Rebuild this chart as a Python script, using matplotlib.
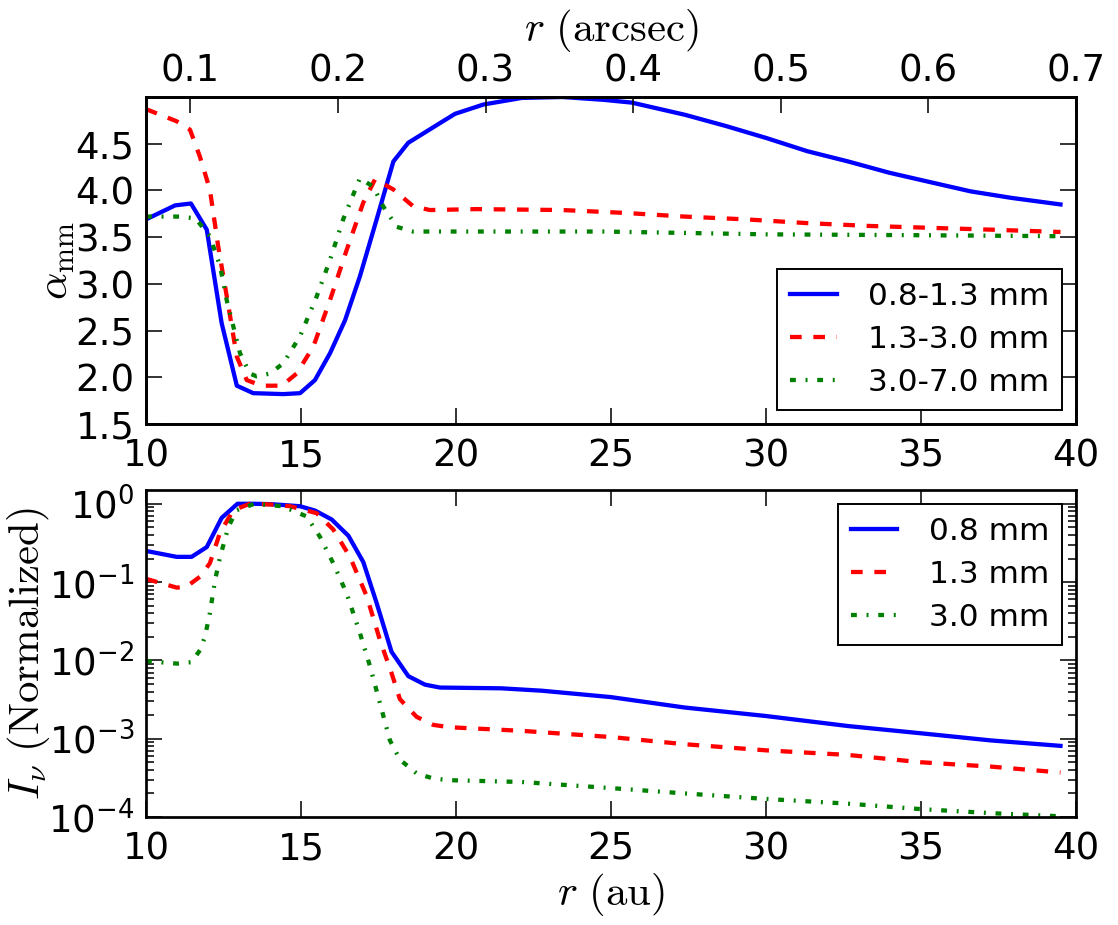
import matplotlib
matplotlib.use("Agg")
import matplotlib.pyplot as plt
import numpy as np

# ---------------- data ----------------
# top panel: spectral index alpha_mm
r_a1 = [10, 10.94, 11.45, 11.96, 12.44, 12.93, 13.46, 14.43, 14.97, 15.45, 15.94, 16.42,
        16.9, 17.44, 17.98, 18.46, 19.48, 19.97, 20.89, 22.12, 23.43, 24.75, 25.67, 27.38,
        28.70, 30.02, 31.33, 32.65, 33.97, 35.28, 36.6, 37.92, 39.5]
alpha_08_13 = [3.69, 3.84, 3.86, 3.58, 2.58, 1.91, 1.83, 1.82, 1.83, 1.97, 2.26, 2.61,
               3.08, 3.69, 4.31, 4.51, 4.72, 4.82, 4.92, 4.99, 5.0, 4.97, 4.94, 4.81,
               4.69, 4.56, 4.42, 4.31, 4.19, 4.09, 3.99, 3.92, 3.85]

r_a2 = [10, 10.99, 11.42, 11.74, 12.06, 12.33, 12.66, 12.93, 13.25, 13.73, 14.38, 14.86,
        15.4, 15.94, 16.47, 17.01, 17.39, 17.98, 18.62, 19.16, 20.67, 23.43, 25.41, 27.38,
        29.36, 31.33, 33.31, 35.28, 37.26, 39.5]
alpha_13_30 = [4.87, 4.74, 4.65, 4.36, 4.01, 3.40, 2.76, 2.22, 1.97, 1.91, 1.91, 2.04,
               2.33, 2.83, 3.36, 3.87, 4.12, 4.01, 3.83, 3.79, 3.80, 3.79, 3.76, 3.72,
               3.69, 3.65, 3.62, 3.60, 3.58, 3.555]

r_a3 = [10, 11.1, 11.6, 12.06, 12.39, 12.6, 12.82, 13.03, 13.35, 13.57, 14.0, 14.43,
        14.97, 15.5, 15.94, 16.36, 16.9, 17.33, 17.65, 18.09, 18.62, 20.4, 24.75, 30.0,
        35.3, 39.5]
alpha_30_70 = [3.72, 3.72, 3.70, 3.51, 3.19, 2.83, 2.54, 2.26, 2.04, 2.01, 2.04, 2.15,
               2.44, 2.86, 3.26, 3.69, 4.13, 4.04, 3.83, 3.61, 3.56, 3.56, 3.56, 3.53,
               3.52, 3.51]

# bottom panel: normalized intensity
r_i1 = [10, 10.99, 11.47, 11.96, 12.44, 12.95, 13.5, 14.0, 14.5, 14.97, 15.45, 15.99,
        16.53, 17.01, 17.44, 17.92, 18.46, 19.0, 19.48, 21.46, 22.77, 24.99, 27.38, 29.99,
        32.65, 35.02, 37.26, 39.5]
I_08 = [0.25, 0.21, 0.21, 0.28, 0.66, 1.0, 1.0, 0.99, 0.96, 0.93, 0.82, 0.63,
        0.39, 0.18, 0.054, 0.0129, 0.0063, 0.0049, 0.0045, 0.0044, 0.0041, 0.0034, 0.0025, 0.00195,
        0.00145, 0.00117, 0.00095, 0.00081]

r_i2 = [10, 10.99, 11.3, 11.74, 12.06, 12.39, 12.82, 13.35, 14.0, 14.65, 15.5, 16.04,
        16.58, 17.12, 17.55, 17.92, 18.19, 18.73, 19.27, 19.8, 22.12, 25.0, 27.38, 30.0,
        32.65, 35.0, 37.26, 39.5]
I_13 = [0.11, 0.085, 0.087, 0.117, 0.174, 0.43, 0.83, 1.0, 0.98, 0.93, 0.76, 0.47,
        0.21, 0.066, 0.018, 0.0069, 0.0032, 0.0019, 0.0015, 0.0014, 0.00126, 0.00105, 0.00085, 0.00071,
        0.00062, 0.0005, 0.00044, 0.00037]

r_i3 = [10, 11.0, 11.47, 11.74, 11.9, 12.06, 12.23, 12.39, 12.66, 12.93, 13.5, 14.4,
        15.18, 15.61, 16.04, 16.47, 16.9, 17.23, 17.55, 17.87, 18.19, 18.73, 19.27, 19.8,
        22.12, 25.0, 27.38, 30.0, 32.65, 35.0, 37.26, 39.5]
I_30 = [0.0098, 0.0091, 0.0095, 0.0135, 0.020, 0.040, 0.107, 0.21, 0.51, 0.83, 1.0, 0.93,
        0.69, 0.38, 0.174, 0.072, 0.0224, 0.0083, 0.0028, 0.00095, 0.00054, 0.00036, 0.00031, 0.000295,
        0.00028, 0.000234, 0.0002, 0.00017, 0.000148, 0.000126, 0.000112, 0.000102]

labels_alpha = ["0.8-1.3 mm", "1.3-3.0 mm", "3.0-7.0 mm"]
labels_I = ["0.8 mm", "1.3 mm", "3.0 mm"]
alpha_ticks = [1.5, 2.0, 2.5, 3.0, 3.5, 4.0, 4.5]
r_ticks = [10, 15, 20, 25, 30, 35, 40]
arcsec_ticks = [0.1, 0.2, 0.3, 0.4, 0.5, 0.6, 0.7]

# ---------------- style ----------------
plt.rcParams.update({
    "font.family": "DejaVu Sans",
    "font.size": 16,
    "mathtext.fontset": "cm",
    "axes.unicode_minus": False,
    "axes.linewidth": 1.4,
    "lines.scale_dashes": False,
    "xtick.direction": "in",
    "ytick.direction": "in",
    "xtick.major.size": 8,
    "ytick.major.size": 8,
    "xtick.minor.size": 4,
    "ytick.minor.size": 4,
    "xtick.major.width": 0.8,
    "ytick.major.width": 0.8,
    "xtick.minor.width": 0.8,
    "ytick.minor.width": 0.8,
    "xtick.major.pad": 7,
    "ytick.major.pad": 6,
    "xtick.labelsize": 19,
    "ytick.labelsize": 19,
})

dash = (0, (6, 6))
dashdot = (0, (3, 5, 1, 5))
lw = 2.2

fig = plt.figure(figsize=(1118 / 140, 925 / 140), dpi=140, facecolor="white")
left, right = 146 / 1118, 1076 / 1118
ax1 = fig.add_axes([left, 1 - 424 / 925, right - left, (424 - 97) / 925])
ax2 = fig.add_axes([left, 1 - 817 / 925, right - left, (817 - 490) / 925])

legend_kw = dict(fontsize=16, fancybox=False, framealpha=1, edgecolor="black",
                 handlelength=1.5, handletextpad=1.0, borderaxespad=0.45,
                 labelspacing=0.45, borderpad=0.42)

# top panel
ax1.plot(r_a1, alpha_08_13, color="b", lw=lw, ls="-", label=labels_alpha[0])
ax1.plot(r_a2, alpha_13_30, color="r", lw=lw, ls=dash, label=labels_alpha[1])
ax1.plot(r_a3, alpha_30_70, color="g", lw=lw, ls=dashdot, label=labels_alpha[2])
ax1.set_xlim(10, 40)
ax1.set_ylim(1.5, 5.0)
ax1.set_yticks(alpha_ticks)
ax1.set_xticks(r_ticks)
ax1.xaxis.set_ticks_position("bottom")
ax1.yaxis.set_ticks_position("both")
ax1.set_ylabel(r"$\alpha_{\rm mm}$", fontsize=22)
ax1.yaxis.set_label_coords(-0.097, 0.5)
leg1 = ax1.legend(loc="lower right", **legend_kw)
leg1.get_frame().set_linewidth(1.0)

axt = ax1.twiny()
axt.set_xlim(0.07, 0.7)
axt.set_xticks(arcsec_ticks)
axt.set_xticklabels([f"{v:.1f}" for v in arcsec_ticks])
axt.tick_params(axis="x", pad=4)
axt.set_xlabel(r"$r\ (\mathrm{arcsec})$", fontsize=22)
axt.xaxis.set_label_coords(0.5, 1 + (97 - 31) / 327)

# bottom panel
ax2.plot(r_i1, I_08, color="b", lw=lw, ls="-", label=labels_I[0])
ax2.plot(r_i2, I_13, color="r", lw=lw, ls=dash, label=labels_I[1])
ax2.plot(r_i3, I_30, color="g", lw=lw, ls=dashdot, label=labels_I[2])
ax2.set_yscale("log")
ax2.set_xlim(10, 40)
ax2.set_ylim(1e-4, 1.5)
ax2.set_xticks(r_ticks)
ax2.xaxis.set_ticks_position("both")
ax2.yaxis.set_ticks_position("both")
ax2.tick_params(which="both", direction="in")
ax2.set_xlabel(r"$r\ (\mathrm{au})$", fontsize=22)
ax2.xaxis.set_label_coords(0.5, -(894 - 817) / 327)
ax2.set_ylabel(r"$I_{\nu}\ (\mathrm{Normalized})$", fontsize=22)
ax2.yaxis.set_label_coords(-0.126, 0.5)
leg2 = ax2.legend(loc="upper right", **legend_kw)
leg2.get_frame().set_linewidth(1.0)

# centre the axis labels on the given coordinates
ax1.yaxis.label.set_va("center")
ax2.yaxis.label.set_va("center")
axt.xaxis.label.set_va("center")
ax2.xaxis.label.set_va("center")

fig.savefig("out.png", dpi=140, facecolor="white")
